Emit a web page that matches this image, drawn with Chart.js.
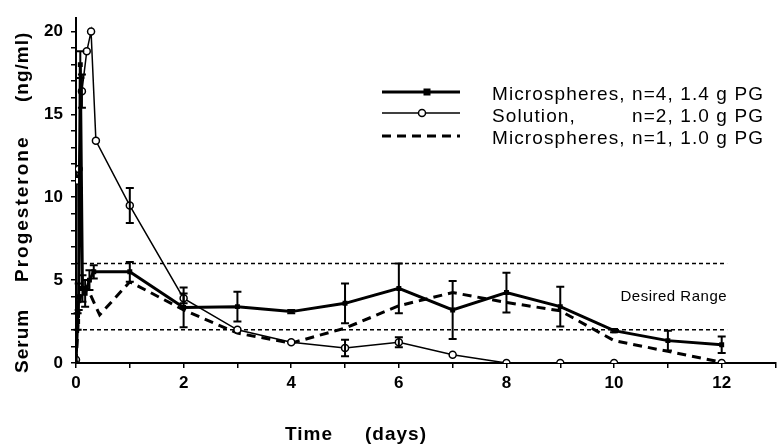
<!DOCTYPE html>
<html>
<head>
<meta charset="utf-8">
<title>Serum Progesterone</title>
<script src="https://cdn.jsdelivr.net/npm/chart.js"></script>
<style>
  html, body { margin: 0; padding: 0; background: #fff; }
  #wrap { width: 781px; height: 446px; }
</style>
</head>
<body>
<div id="wrap"><canvas id="c" width="781" height="446"></canvas></div>
<script>
// Microspheres, n=4, 1.4 g PG
var ms4Days = [0, 0.03, 0.05, 0.08, 0.12, 0.17, 0.25, 0.33, 1, 2, 3, 4, 5, 6, 7, 8, 9, 10, 11, 12];
var ms4Vals = [0, 2.5, 4.0, 18.0, 4.5, 4.2, 5.0, 5.5, 5.5, 3.35, 3.4, 3.1, 3.6, 4.5, 3.2, 4.25, 3.4, 1.95, 1.35, 1.1];
var ms4Err  = [0, 0.5, 0.8, 0.8, 0.8, 0.8, 0.6, 0.4, 0.6, 1.2, 0.9, 0.1, 1.2, 1.5, 1.75, 1.2, 1.2, 0.1, 0.6, 0.5];

// Solution, n=2, 1.0 g PG
var solDays = [0, 0.02, 0.05, 0.11, 0.2, 0.28, 0.37, 1, 2, 3, 4, 5, 6, 7, 8, 9, 10, 12];
var solVals = [0.2, 11.0, 11.7, 16.4, 18.8, 20.0, 13.4, 9.5, 3.9, 2.0, 1.25, 0.9, 1.25, 0.5, 0, 0, 0, 0];
var solErr  = [0, 0, 0, 1.0, 0, 0, 0, 1.05, 0.3, 0, 0, 0.5, 0.3, 0, 0, 0, 0, 0];

// Microspheres, n=1, 1.0 g PG
var ms1Days = [0, 0.05, 0.1, 0.2, 0.44, 1, 2, 3, 4, 5, 6, 7, 8, 9, 10, 11, 12];
var ms1Vals = [0, 3.0, 4.5, 4.6, 2.9, 4.9, 3.2, 1.8, 1.2, 2.1, 3.45, 4.25, 3.65, 3.15, 1.35, 0.7, 0.05];

// desired range
var rangeLimits = [2, 6];
var rangeEnd = 12.1;

// axis ticks
var xTicks = [0, 1, 2, 3, 4, 5, 6, 7, 8, 9, 10, 11, 12, 13];
var yTicks = [0, 1, 2, 3, 4, 5, 6, 7, 8, 9, 10, 11, 12, 13, 14, 15, 16, 17, 18, 19, 20];

var names = ['Microspheres,', 'Solution,', 'Microspheres,'];
var details = ['n=4, 1.4 g PG', 'n=2, 1.0 g PG', 'n=1, 1.0 g PG'];

var FONT = '"Liberation Sans", Arial, sans-serif';

function pts(xs, ys) {
  return xs.map(function (x, i) { return { x: x, y: ys[i] }; });
}

var errorBars = {
  id: 'errorBars',
  afterDatasetsDraw: function (chart) {
    var ctx = chart.ctx, xs = chart.scales.x, ys = chart.scales.y;
    ctx.save();
    ctx.strokeStyle = '#000';
    ctx.lineWidth = 2;
    chart.data.datasets.forEach(function (ds) {
      if (!ds.errors) return;
      ds.data.forEach(function (p, i) {
        var e = ds.errors[i];
        if (!e) return;
        var px = xs.getPixelForValue(p.x);
        var top = ys.getPixelForValue(p.y + e), bot = ys.getPixelForValue(p.y - e);
        ctx.beginPath();
        ctx.moveTo(px, top); ctx.lineTo(px, bot);
        ctx.moveTo(px - 4, top); ctx.lineTo(px + 4, top);
        ctx.moveTo(px - 4, bot); ctx.lineTo(px + 4, bot);
        ctx.stroke();
      });
    });
    ctx.restore();
  }
};

var decorations = {
  id: 'decorations',
  afterDraw: function (chart) {
    var ctx = chart.ctx, xs = chart.scales.x, ys = chart.scales.y;
    ctx.save();
    ctx.fillStyle = '#000';
    ctx.strokeStyle = '#000';
    ctx.textBaseline = 'alphabetic';
    ctx.textAlign = 'left';

    // axis titles
    ctx.font = 'bold 19px ' + FONT;
    ctx.letterSpacing = '1px';
    ctx.fillText('Time', 285, 440);
    ctx.fillText('(days)', 365, 440);
    ctx.save();
    ctx.translate(28, 373);
    ctx.rotate(-Math.PI / 2);
    ctx.fillText('Serum', 0, 0);
    ctx.letterSpacing = '2px';
    ctx.fillText('Progesterone', 91, 0);
    ctx.letterSpacing = '1px';
    ctx.fillText('(ng/ml)', 271, 0);
    ctx.restore();

    // desired range label
    ctx.font = '15px ' + FONT;
    ctx.letterSpacing = '0.5px';
    ctx.textAlign = 'right';
    ctx.fillText('Desired Range', xs.getPixelForValue(rangeEnd), ys.getPixelForValue(3.76));

    // legend
    var lineY = [92, 113, 136], textY = [100, 122, 144];
    ctx.textAlign = 'left';
    ctx.font = '19px ' + FONT;
    ctx.letterSpacing = '0px';
    var full = names[0] + ' ' + details[0];
    var ls = (272 - ctx.measureText(full).width) / full.length;
    ctx.letterSpacing = ls.toFixed(2) + 'px';
    var detailX = 492 + ctx.measureText(names[0] + ' ').width;
    lineY.forEach(function (y, i) {
      ctx.beginPath();
      ctx.setLineDash(i === 2 ? [9, 6] : []);
      ctx.lineWidth = i === 1 ? 1.5 : 3;
      ctx.moveTo(382, y); ctx.lineTo(460, y);
      ctx.stroke();
      ctx.setLineDash([]);
      if (i === 0) {
        ctx.fillRect(423.5, y - 3.5, 7, 7);
      } else if (i === 1) {
        ctx.beginPath();
        ctx.arc(422, y, 3.5, 0, Math.PI * 2);
        ctx.fillStyle = '#fff'; ctx.fill();
        ctx.fillStyle = '#000';
        ctx.lineWidth = 1.5; ctx.stroke();
      }
      ctx.fillText(names[i], 492, textY[i]);
      ctx.fillText(details[i], detailX, textY[i]);
    });
    ctx.restore();
  }
};

new Chart(document.getElementById('c'), {
  type: 'line',
  data: {
    datasets: [
      {
        label: names[0] + ' ' + details[0], data: pts(ms4Days, ms4Vals), errors: ms4Err,
        borderColor: '#000', backgroundColor: '#000', borderWidth: 3,
        pointStyle: 'rect', pointRadius: 3.5, pointBackgroundColor: '#000', pointBorderWidth: 0
      },
      {
        label: names[1] + ' ' + details[1], data: pts(solDays, solVals), errors: solErr,
        borderColor: '#000', borderWidth: 1.5,
        pointStyle: 'circle', pointRadius: 3.5, pointBackgroundColor: '#fff',
        pointBorderColor: '#000', pointBorderWidth: 1.5
      },
      {
        label: names[2] + ' ' + details[2], data: pts(ms1Days, ms1Vals),
        borderColor: '#000', borderWidth: 3, borderDash: [9, 6], pointRadius: 0
      },
      {
        label: 'upper', data: [{ x: 0, y: rangeLimits[1] }, { x: rangeEnd, y: rangeLimits[1] }],
        borderColor: '#000', borderWidth: 1.5, borderDash: [4, 3], pointRadius: 0
      },
      {
        label: 'lower', data: [{ x: 0, y: rangeLimits[0] }, { x: rangeEnd, y: rangeLimits[0] }],
        borderColor: '#000', borderWidth: 1.5, borderDash: [4, 3], pointRadius: 0
      }
    ]
  },
  options: {
    responsive: false,
    animation: false,
    layout: { padding: { top: 14, right: 0, left: 0, bottom: 0 } },
    plugins: { legend: { display: false }, tooltip: { enabled: false } },
    elements: { line: { tension: 0 } },
    scales: {
      x: {
        type: 'linear', min: 0, max: 13,
        afterFit: function (s) { s.height = 83; },
        afterBuildTicks: function (s) { s.ticks = xTicks.map(function (v) { return { value: v }; }); },
        grid: { drawOnChartArea: false, color: '#000', tickLength: 5, lineWidth: 1.5 },
        border: { color: '#000', width: 2 },
        ticks: {
          autoSkip: false, maxRotation: 0, padding: 5, color: '#000',
          font: { family: FONT, size: 17, weight: 'bold' },
          callback: function (v) { return (v % 2 === 0 && v <= 12) ? String(v) : ''; }
        }
      },
      y: {
        type: 'linear', min: 0, max: 20.8,
        afterFit: function (s) { s.width = 76; },
        afterBuildTicks: function (s) { s.ticks = yTicks.map(function (v) { return { value: v }; }); },
        grid: { drawOnChartArea: false, color: '#000', tickLength: 5, lineWidth: 1.5 },
        border: { color: '#000', width: 2 },
        ticks: {
          autoSkip: false, padding: 8, color: '#000',
          font: { family: FONT, size: 17, weight: 'bold' },
          callback: function (v) { return (v % 5 === 0) ? String(v) : ''; }
        }
      }
    }
  },
  plugins: [errorBars, decorations]
});
</script>
</body>
</html>
